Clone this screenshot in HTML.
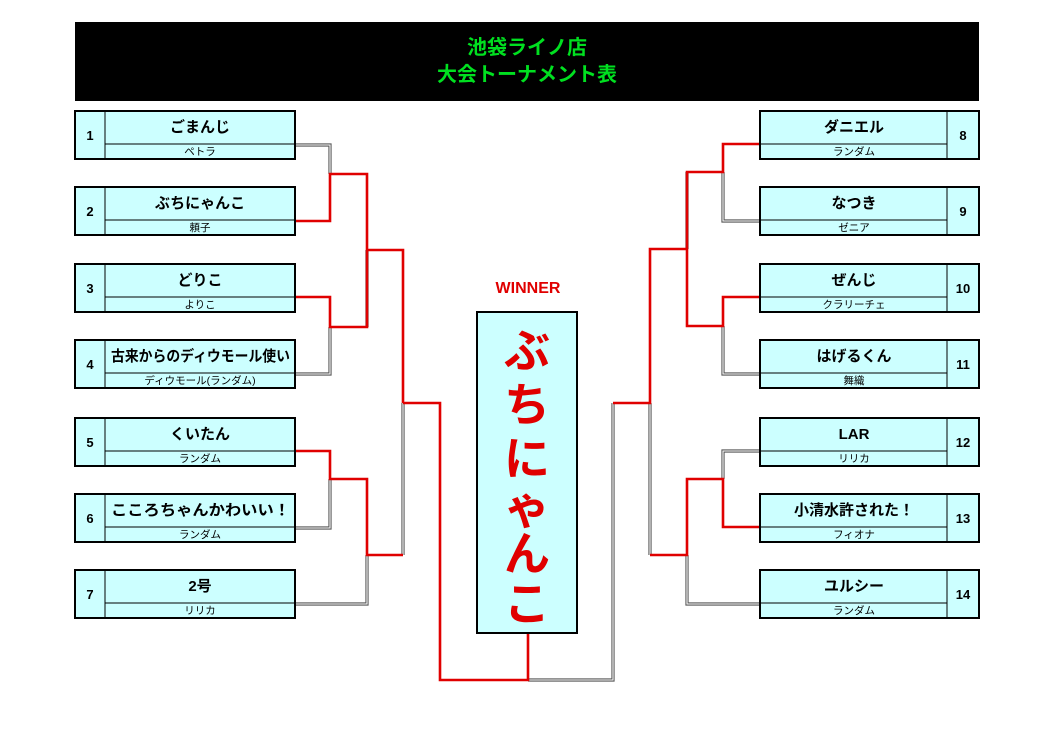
<!DOCTYPE html>
<html><head><meta charset="utf-8"><style>
html,body{margin:0;padding:0;background:#fff;}
svg{display:block;font-family:"Liberation Sans","Noto Sans CJK JP",sans-serif;}
.n{font-size:15px;fill:#000;font-weight:bold;}
.s{font-size:10.5px;fill:#000;}
.num{font-size:13px;font-weight:bold;fill:#000;}
.g1{fill:none;stroke:#555;stroke-width:3.2;}
.g2{fill:none;stroke:#fff;stroke-width:1.1;}
.r{fill:none;stroke:#e00000;stroke-width:2.6;}
.box{fill:#ccffff;stroke:#000;stroke-width:2;}
.ln{stroke:#000;stroke-width:1;}
</style></head><body>
<svg width="1053" height="744" viewBox="0 0 1053 744">
<rect x="75" y="22" width="904" height="79" fill="#000"/>
<text x="527" y="54" text-anchor="middle" font-size="20" font-weight="bold" fill="#00e020">池袋ライノ店</text>
<text x="527" y="81" text-anchor="middle" font-size="20" font-weight="bold" fill="#00e020">大会トーナメント表</text>

<g>
<path class="g1" d="M295 145H330V174 M367 250V327 M295 374H330V327 M295 528H330V479 M295 604H367V555 M403 555V403 M528 680H613V403 M650 403V555 M687 172V249 M760 221H723V172 M760 374H723V326 M760 451H723V479 M760 604H687V555"/>
<path class="g2" d="M295 145H330V174 M367 250V327 M295 374H330V327 M295 528H330V479 M295 604H367V555 M403 555V403 M528 680H613V403 M650 403V555 M687 172V249 M760 221H723V172 M760 374H723V326 M760 451H723V479 M760 604H687V555"/>
</g>
<path class="r" d="M295 221H330V174H367V250H403V403 M295 297H330V327H367V250 M295 451H330V479H367V555H403 M403 403H440V680H528V633"/>
<path class="r" d="M613 403H650V249H687V172H723V144H760 M760 297H723V326H687V249 M650 555H687V479H723V527H760"/>

<g>
<rect class="box" x="75" y="111" width="220" height="48"/><line class="ln" x1="105" y1="111" x2="105" y2="159"/><line class="ln" x1="105" y1="144" x2="295" y2="144"/>
<text class="num" x="90" y="140" text-anchor="middle">1</text><text class="n" x="200" y="132" text-anchor="middle">ごまんじ</text><text class="s" x="200" y="155" text-anchor="middle">ペトラ</text>

<rect class="box" x="75" y="187" width="220" height="48"/><line class="ln" x1="105" y1="187" x2="105" y2="235"/><line class="ln" x1="105" y1="220" x2="295" y2="220"/>
<text class="num" x="90" y="216" text-anchor="middle">2</text><text class="n" x="200" y="208" text-anchor="middle">ぶちにゃんこ</text><text class="s" x="200" y="231" text-anchor="middle">頼子</text>

<rect class="box" x="75" y="264" width="220" height="48"/><line class="ln" x1="105" y1="264" x2="105" y2="312"/><line class="ln" x1="105" y1="297" x2="295" y2="297"/>
<text class="num" x="90" y="293" text-anchor="middle">3</text><text class="n" x="200" y="285" text-anchor="middle">どりこ</text><text class="s" x="200" y="308" text-anchor="middle">よりこ</text>

<rect class="box" x="75" y="340" width="220" height="48"/><line class="ln" x1="105" y1="340" x2="105" y2="388"/><line class="ln" x1="105" y1="373" x2="295" y2="373"/>
<text class="num" x="90" y="369" text-anchor="middle">4</text><text class="n" x="111" y="361" textLength="179" lengthAdjust="spacingAndGlyphs">古来からのディウモール使い</text><text class="s" x="200" y="384" text-anchor="middle">ディウモール(ランダム)</text>

<rect class="box" x="75" y="418" width="220" height="48"/><line class="ln" x1="105" y1="418" x2="105" y2="466"/><line class="ln" x1="105" y1="451" x2="295" y2="451"/>
<text class="num" x="90" y="447" text-anchor="middle">5</text><text class="n" x="200" y="439" text-anchor="middle">くいたん</text><text class="s" x="200" y="462" text-anchor="middle">ランダム</text>

<rect class="box" x="75" y="494" width="220" height="48"/><line class="ln" x1="105" y1="494" x2="105" y2="542"/><line class="ln" x1="105" y1="527" x2="295" y2="527"/>
<text class="num" x="90" y="523" text-anchor="middle">6</text><text class="n" x="111" y="515" textLength="179" lengthAdjust="spacingAndGlyphs">こころちゃんかわいい！</text><text class="s" x="200" y="538" text-anchor="middle">ランダム</text>

<rect class="box" x="75" y="570" width="220" height="48"/><line class="ln" x1="105" y1="570" x2="105" y2="618"/><line class="ln" x1="105" y1="603" x2="295" y2="603"/>
<text class="num" x="90" y="599" text-anchor="middle">7</text><text class="n" x="200" y="591" text-anchor="middle">2号</text><text class="s" x="200" y="614" text-anchor="middle">リリカ</text>
</g>

<g>
<rect class="box" x="760" y="111" width="219" height="48"/><line class="ln" x1="947" y1="111" x2="947" y2="159"/><line class="ln" x1="760" y1="144" x2="947" y2="144"/>
<text class="num" x="963" y="140" text-anchor="middle">8</text><text class="n" x="854" y="132" text-anchor="middle">ダニエル</text><text class="s" x="854" y="155" text-anchor="middle">ランダム</text>

<rect class="box" x="760" y="187" width="219" height="48"/><line class="ln" x1="947" y1="187" x2="947" y2="235"/><line class="ln" x1="760" y1="220" x2="947" y2="220"/>
<text class="num" x="963" y="216" text-anchor="middle">9</text><text class="n" x="854" y="208" text-anchor="middle">なつき</text><text class="s" x="854" y="231" text-anchor="middle">ゼニア</text>

<rect class="box" x="760" y="264" width="219" height="48"/><line class="ln" x1="947" y1="264" x2="947" y2="312"/><line class="ln" x1="760" y1="297" x2="947" y2="297"/>
<text class="num" x="963" y="293" text-anchor="middle">10</text><text class="n" x="854" y="285" text-anchor="middle">ぜんじ</text><text class="s" x="854" y="308" text-anchor="middle">クラリーチェ</text>

<rect class="box" x="760" y="340" width="219" height="48"/><line class="ln" x1="947" y1="340" x2="947" y2="388"/><line class="ln" x1="760" y1="373" x2="947" y2="373"/>
<text class="num" x="963" y="369" text-anchor="middle">11</text><text class="n" x="854" y="361" text-anchor="middle">はげるくん</text><text class="s" x="854" y="384" text-anchor="middle">舞織</text>

<rect class="box" x="760" y="418" width="219" height="48"/><line class="ln" x1="947" y1="418" x2="947" y2="466"/><line class="ln" x1="760" y1="451" x2="947" y2="451"/>
<text class="num" x="963" y="447" text-anchor="middle">12</text><text class="n" x="854" y="439" text-anchor="middle">LAR</text><text class="s" x="854" y="462" text-anchor="middle">リリカ</text>

<rect class="box" x="760" y="494" width="219" height="48"/><line class="ln" x1="947" y1="494" x2="947" y2="542"/><line class="ln" x1="760" y1="527" x2="947" y2="527"/>
<text class="num" x="963" y="523" text-anchor="middle">13</text><text class="n" x="854" y="515" text-anchor="middle">小清水許された！</text><text class="s" x="854" y="538" text-anchor="middle">フィオナ</text>

<rect class="box" x="760" y="570" width="219" height="48"/><line class="ln" x1="947" y1="570" x2="947" y2="618"/><line class="ln" x1="760" y1="603" x2="947" y2="603"/>
<text class="num" x="963" y="599" text-anchor="middle">14</text><text class="n" x="854" y="591" text-anchor="middle">ユルシー</text><text class="s" x="854" y="614" text-anchor="middle">ランダム</text>
</g>

<text x="528" y="293" text-anchor="middle" font-size="16" font-weight="bold" fill="#e00000">WINNER</text>
<rect x="477" y="312" width="100" height="321" fill="#ccffff" stroke="#000" stroke-width="2"/>
<g font-size="46" font-weight="bold" fill="#e00000" text-anchor="middle">
<text x="527" y="367">ぶ</text>
<text x="527" y="421">ち</text>
<text x="527" y="475">に</text>
<text x="527" y="524">ゃ</text>
<text x="527" y="570">ん</text>
<text x="527" y="620">こ</text>
</g>
</svg>
</body></html>
